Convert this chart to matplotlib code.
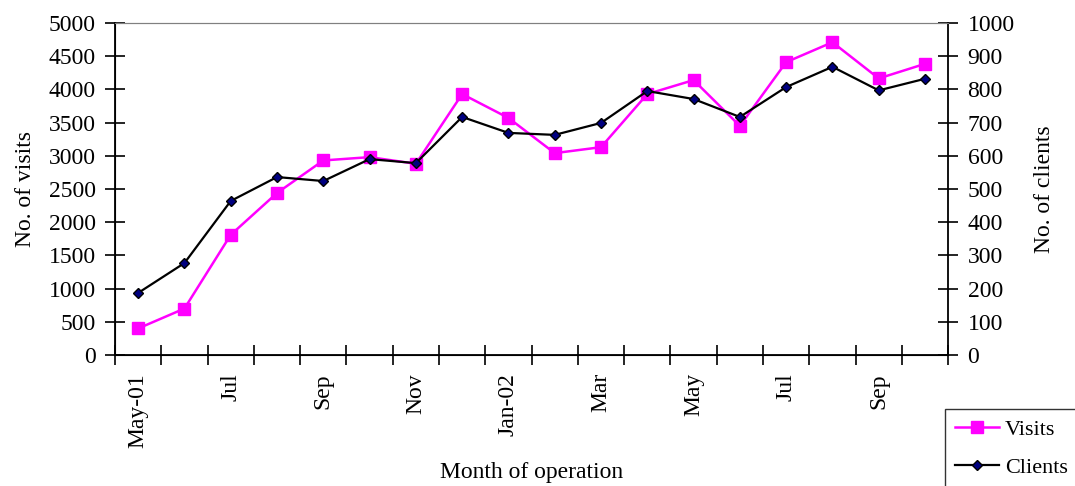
import matplotlib.pyplot as plt

plt.rcParams['font.family'] = ['Liberation Serif', 'DejaVu Serif']

months = ['May-01', 'Jun', 'Jul', 'Aug', 'Sep', 'Oct', 'Nov', 'Dec', 'Jan-02',
          'Feb', 'Mar', 'Apr', 'May', 'Jun', 'Jul', 'Aug', 'Sep', 'Oct']
visits = [400, 700, 1810, 2440, 2930, 2980, 2880, 3930, 3570, 3040,
          3130, 3930, 4140, 3450, 4410, 4710, 4165, 4385]
clients = [187, 277, 464, 536, 524, 590, 578, 717, 669, 663,
           699, 795, 771, 717, 807, 868, 797, 832]
shown_labels = ['May-01', '', 'Jul', '', 'Sep', '', 'Nov', '', 'Jan-02',
                '', 'Mar', '', 'May', '', 'Jul', '', 'Sep', '']

fs = 17

fig = plt.figure(figsize=(10.75, 4.86), dpi=100)
ax1 = fig.add_axes([0.107, 0.2695, 0.775, 0.6832])
ax2 = ax1.twinx()

x = list(range(len(months)))
l1 = ax1.plot(x, visits, color='#FF00FF', linewidth=1.8, marker='s',
              markersize=8.5, markerfacecolor='#FF00FF', markeredgecolor='#FF00FF',
              label='Visits')
l2 = ax2.plot(x, clients, color='black', linewidth=1.6, marker='D',
              markersize=5, markerfacecolor='#000080', markeredgecolor='black',
              label='Clients')

ax1.set_xlim(-0.5, len(months) - 0.5)
ax1.set_ylim(0, 5000)
ax2.set_ylim(0, 1000)
ax1.set_yticks(range(0, 5001, 500))
ax2.set_yticks(range(0, 1001, 100))

# tick marks at category boundaries, labels at category centres
ax1.set_xticks([i - 0.5 for i in range(len(months) + 1)])
ax1.set_xticklabels([])
ax1.set_xticks(x, minor=True)
ax1.set_xticklabels(shown_labels, minor=True, rotation=90)
ax1.tick_params(axis='x', which='minor', length=0, pad=13, labelsize=fs)
ax1.tick_params(axis='x', which='major', direction='inout', length=14, width=1.2)
ax1.tick_params(axis='y', direction='inout', length=14, width=1.2, labelsize=fs, pad=7)
ax2.tick_params(axis='y', direction='inout', length=14, width=1.2, labelsize=fs, pad=7)

for sp in ['left', 'bottom']:
    ax1.spines[sp].set_linewidth(1.3)
ax2.spines['right'].set_linewidth(1.3)
ax1.spines['top'].set_color('#808080')
ax2.spines['top'].set_color('#808080')
ax1.spines['right'].set_visible(False)

ax1.set_ylabel('No. of visits', fontsize=fs, labelpad=9)
ax2.set_ylabel('No. of clients', fontsize=fs, labelpad=14)
ax1.set_xlabel('Month of operation', fontsize=fs, labelpad=10)

lines = l1 + l2
fig.legend(lines, [l.get_label() for l in lines], loc='upper left',
           bbox_to_anchor=(0.879, 0.158), borderaxespad=0, fontsize=16,
           frameon=True, fancybox=False, edgecolor='black', handlelength=2.0,
           handletextpad=0.25, borderpad=0.45, labelspacing=0.8)

fig.savefig('out.png', dpi=100)
